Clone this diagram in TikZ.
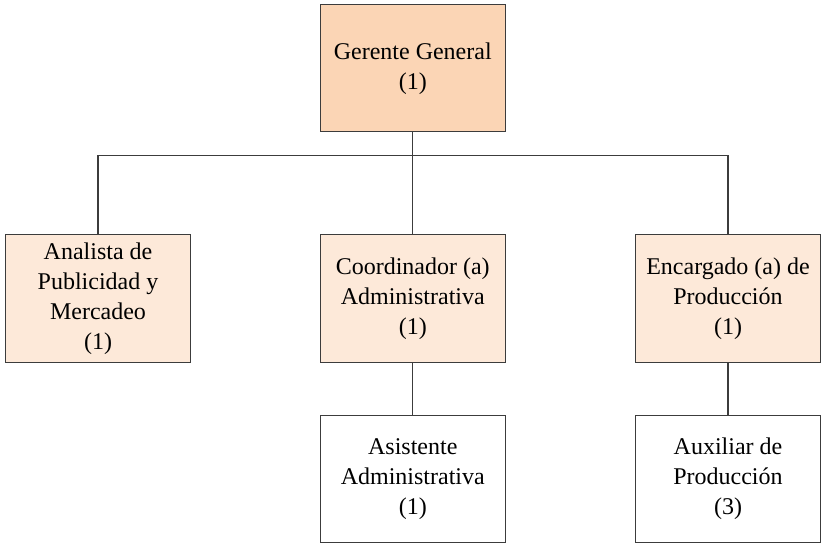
\documentclass[tikz,border=0pt]{standalone}
\usepackage{fontspec}
\setmainfont{Liberation Serif}
\definecolor{headfill}{RGB}{251,213,181}
\definecolor{unitfill}{RGB}{253,233,217}
\definecolor{edge}{RGB}{60,60,60}
\begin{document}
\begin{tikzpicture}[x=1pt,y=1pt,
  orgbox/.style={draw=edge, line width=1pt, minimum width=185pt, minimum height=127pt,
    align=center, inner sep=2pt, font=\fontsize{24}{30}\selectfont},
  link/.style={draw=edge, line width=1.3pt}]
\useasboundingbox (0,0) rectangle (822,-545);
\node[orgbox, fill=headfill] (gg) at (412.75,-68.5) {Gerente General\\(1)};
\node[orgbox, fill=unitfill] (an) at (98,-298.5) {Analista de\\Publicidad y\\Mercadeo\\(1)};
\node[orgbox, fill=unitfill] (co) at (412.75,-298.5) {Coordinador (a)\\Administrativa\\(1)};
\node[orgbox, fill=unitfill] (en) at (728,-298.5) {Encargado (a) de\\Producción\\(1)};
\node[orgbox, fill=white] (as) at (412.75,-479) {Asistente\\Administrativa\\(1)};
\node[orgbox, fill=white] (au) at (728,-479) {Auxiliar de\\Producción\\(3)};
\coordinate (bus) at (0,-155.5);
\draw[link] (gg.south) -- (co.north);
\draw[link] (an.north) |- (bus -| en.north) -- (en.north);
\draw[link] (co.south) -- (as.north);
\draw[link] (en.south) -- (au.north);
\end{tikzpicture}
\end{document}
